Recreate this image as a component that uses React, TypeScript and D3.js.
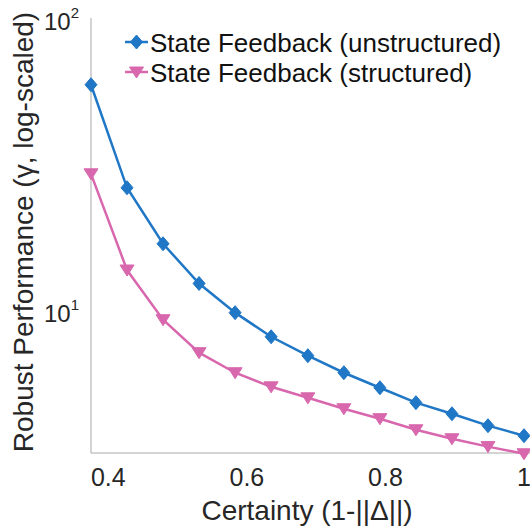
import React from "react";
import * as d3 from "d3";

const certainty = [0.375, 0.427, 0.479, 0.531, 0.583, 0.635, 0.688, 0.74, 0.792, 0.844, 0.896, 0.948, 1.0];
const unstructured = [60, 26.6, 17.1, 12.5, 9.93, 8.21, 7.07, 6.18, 5.49, 4.88, 4.47, 4.07, 3.76];
const structured = [29.7, 13.9, 9.39, 7.24, 6.18, 5.53, 5.07, 4.65, 4.3, 3.94, 3.67, 3.45, 3.26];
const xTicks = [0.4, 0.6, 0.8, 1];
const yTicks = [10, 100];
const seriesNames = ["State Feedback (unstructured)", "State Feedback (structured)"];

const BLUE = "#1f77c6";
const PINK = "#d867ad";
const FONT = "'Liberation Sans', Arial, sans-serif";

const diamond = (cx: number, cy: number) =>
  `M${cx},${cy - 7}L${cx + 6},${cy}L${cx},${cy + 7}L${cx - 6},${cy}Z`;
const triDown = (cx: number, cy: number) =>
  `M${cx - 7},${cy - 5}L${cx + 7},${cy - 5}L${cx},${cy + 6}Z`;

const App = () => {
  const left = 91;
  const right = 527;
  const top = 20;
  const bottom = 453;

  const x = d3.scaleLinear().domain([0.375, 1]).range([left, right - 3]);
  const y = d3.scaleLog().domain([3.28, 100]).range([bottom, top]);

  const line = d3
    .line<number>()
    .x((d, i) => x(certainty[i]))
    .y((d) => y(d));

  return (
    <svg width={530} height={531} style={{ position: "absolute", left: 0, top: 0 }} fontFamily={FONT}>
      <rect width={530} height={531} fill="white" />
      {/* axes */}
      <line x1={left} x2={left} y1={top - 2} y2={bottom} stroke="#a8a8a8" strokeWidth={1} />
      <line x1={left} x2={530} y1={bottom} y2={bottom} stroke="#a8a8a8" strokeWidth={1} />

      {xTicks.map((t) => (
        <text key={t} x={x(t)} y={486} textAnchor="middle" fontSize={25} fill="#262626">
          {t}
        </text>
      ))}
      {yTicks.map((t) => (
        <text key={t} x={79} y={y(t) + 10} textAnchor="end" fontSize={24} fill="#262626">
          10
          <tspan dy={-12} fontSize={15}>
            {Math.round(Math.log10(t))}
          </tspan>
        </text>
      ))}

      <text x={307} y={520} textAnchor="middle" fontSize={28} fill="#262626">
        Certainty (1-||Δ||)
      </text>
      <text
        transform={`translate(33,232) rotate(-90)`}
        textAnchor="middle"
        fontSize={28}
        fill="#262626"
      >
        Robust Performance (γ, log-scaled)
      </text>

      {/* series */}
      <path d={line(unstructured) || ""} fill="none" stroke={BLUE} strokeWidth={2.5} />
      {unstructured.map((v, i) => (
        <path key={i} d={diamond(x(certainty[i]), y(v))} fill={BLUE} stroke={BLUE} strokeWidth={1} />
      ))}
      <path d={line(structured) || ""} fill="none" stroke={PINK} strokeWidth={2.5} />
      {structured.map((v, i) => (
        <path key={i} d={triDown(x(certainty[i]), y(v))} fill={PINK} stroke={PINK} strokeWidth={1} />
      ))}

      {/* legend */}
      {seriesNames.map((name, i) => {
        const ly = 42 + i * 30;
        const c = i === 0 ? BLUE : PINK;
        return (
          <g key={name}>
            <line x1={125} x2={148} y1={ly} y2={ly} stroke={c} strokeWidth={2.5} />
            <path d={i === 0 ? diamond(136.5, ly) : triDown(136.5, ly)} fill={c} stroke={c} />
            <text x={150} y={ly + 10} fontSize={26} fill="#111">
              {name}
            </text>
          </g>
        );
      })}
    </svg>
  );
};

export default App;
